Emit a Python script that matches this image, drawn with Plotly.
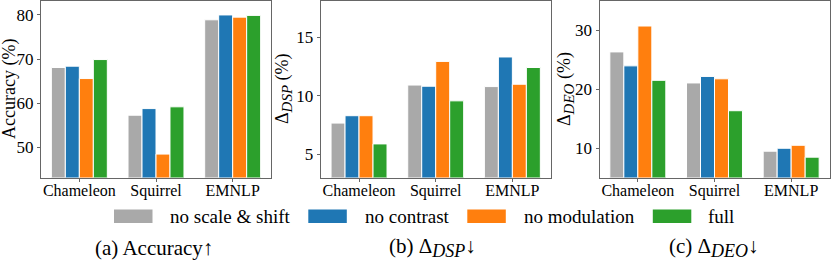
import plotly.graph_objects as go

W, H = 831, 261
categories = ["Chameleon", "Squirrel", "EMNLP"]
variants = ["no scale & shift", "no contrast", "no modulation", "full"]
colors = ["#a9a9a9", "#1f77b4", "#ff7f0e", "#2ca02c"]

accuracy = {
    "no scale & shift": [68.1, 57.3, 78.9],
    "no contrast": [68.4, 58.8, 80.0],
    "no modulation": [65.6, 48.5, 79.5],
    "full": [69.9, 59.2, 79.9],
}
dsp = {
    "no scale & shift": [7.65, 10.9, 10.77],
    "no contrast": [8.28, 10.8, 13.3],
    "no modulation": [8.28, 12.92, 10.97],
    "full": [5.87, 9.55, 12.4],
}
deo = {
    "no scale & shift": [26.35, 21.1, 9.55],
    "no contrast": [23.99, 22.2, 10.05],
    "no modulation": [30.73, 21.8, 10.55],
    "full": [21.54, 16.4, 8.54],
}

panels = [accuracy, dsp, deo]
y_ranges = [[43.2, 83.2], [3.0, 18.1], [5.1, 35.0]]
y_ticks = [[50, 60, 70, 80], [5, 10, 15], [10, 20, 30]]


def sub(txt, size):
    return '<sub><span style="font-size:%dpx"><i>%s</i></span></sub>' % (size, txt)


y_titles = ["Accuracy (%)", "Δ" + sub("DSP", 15) + " (%)", "Δ" + sub("DEO", 15) + " (%)"]
subtitles = ["(a) Accuracy↑", "(b) Δ" + sub("DSP", 18) + "↓", "(c) Δ" + sub("DEO", 18) + "↓"]

FONT = "Liberation Serif, Times New Roman, serif"
frame_px = [(41, 271), (320.7, 550.7), (599.5, 829.5)]
y_dom = [1 - 177.5 / H, 1 - 0.8 / H]

fig = go.Figure()
for p, data in enumerate(panels):
    ax = "" if p == 0 else str(p + 1)
    for v, c in zip(variants, colors):
        fig.add_trace(go.Bar(
            x=categories, y=data[v], name=v, marker_color=c,
            marker_line=dict(color="white", width=1),
            xaxis="x" + ax, yaxis="y" + ax, showlegend=False,
            offsetgroup=v,
        ))

layout = dict(
    width=W, height=H, margin=dict(l=0, r=0, t=0, b=0),
    paper_bgcolor="white", plot_bgcolor="white",
    barmode="group", bargap=0.27, bargroupgap=0,
    font=dict(family=FONT, color="black", size=16),
)
for p in range(3):
    ax = "" if p == 0 else str(p + 1)
    x0, x1 = frame_px[p]
    layout["xaxis" + ax] = dict(
        domain=[x0 / W, x1 / W], range=[-0.5, 2.5], anchor="y" + ax,
        showline=True, mirror=True, linecolor="#666", linewidth=1,
        ticks="outside", ticklen=3, tickcolor="#666", showgrid=False,
        tickfont=dict(size=16, family=FONT, color="black"), fixedrange=True,
        ticklabelstandoff=-5,
    )
    layout["yaxis" + ax] = dict(
        domain=y_dom, range=y_ranges[p], anchor="x" + ax,
        tickvals=y_ticks[p],
        showline=True, mirror=True, linecolor="#666", linewidth=1,
        ticks="outside", ticklen=3, tickcolor="#666", showgrid=False,
        zeroline=False, tickfont=dict(size=17, family=FONT, color="black"),
    )
fig.update_layout(**layout)

annotations = []
shapes = []
# y-axis titles as rotated annotations
title_x = [9, 283, 565]
for tx, t in zip(title_x, y_titles):
    annotations.append(dict(text=t, xref="paper", yref="paper",
                            x=tx / W, y=1 - 89 / H, textangle=-90,
                            xanchor="center", yanchor="middle", showarrow=False,
                            font=dict(size=18, family=FONT)))

# manual legend with wide patches
leg_y = 216.2
patch_x = [114, 308.3, 467.3, 652.8]
text_x = [168.3, 363.3, 522.3, 706]
for px, tx, v, c in zip(patch_x, text_x, variants, colors):
    shapes.append(dict(type="rect", xref="paper", yref="paper",
                       x0=px / W, x1=(px + 38.5) / W,
                       y0=1 - (leg_y + 6.7) / H, y1=1 - (leg_y - 6.7) / H,
                       fillcolor=c, line=dict(width=0)))
    annotations.append(dict(text=v, xref="paper", yref="paper",
                            x=tx / W, y=1 - leg_y / H,
                            xanchor="left", yanchor="middle", showarrow=False,
                            font=dict(size=19, family=FONT)))
sub_x = [153.5, 432.5, 714]
for sx, t in zip(sub_x, subtitles):
    annotations.append(dict(text=t, xref="paper", yref="paper",
                            x=sx / W, y=1 - 247.5 / H,
                            xanchor="center", yanchor="middle", showarrow=False,
                            font=dict(size=21, family=FONT)))
fig.update_layout(shapes=shapes, annotations=annotations)

fig.write_html(
    "out.html",
    config={"displayModeBar": False},
    post_script="document.body.style.margin='0';document.body.style.padding='0';",
)
